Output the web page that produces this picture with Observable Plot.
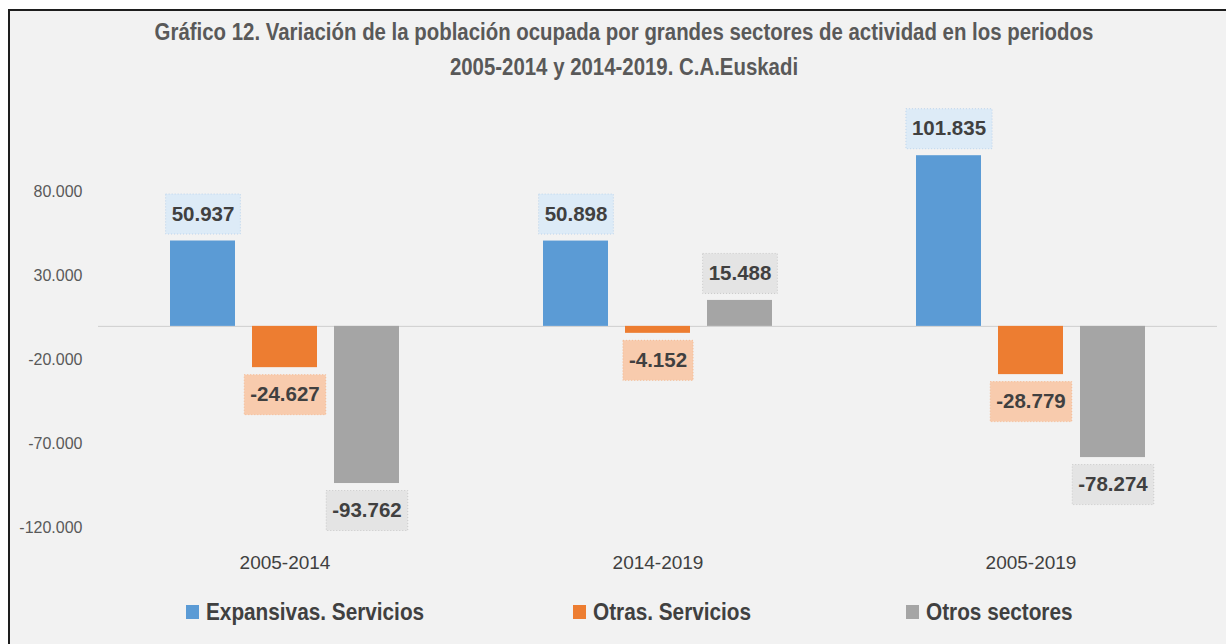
<!DOCTYPE html>
<html>
<head>
<meta charset="utf-8">
<script src="https://cdn.jsdelivr.net/npm/d3@7"></script>
<script src="https://cdn.jsdelivr.net/npm/@observablehq/plot@0.6"></script>
<style>
  html, body { margin: 0; padding: 0; background: #ffffff; }
  #frame { position: absolute; left: 8px; top: 9px; width: 1240px; height: 660px; background: #f2f2f2;
           border-left: 2px solid #1e1e1e; border-top: 2px solid #1e1e1e; }
  #title { position: absolute; left: 0; top: 15px; width: 1248px; text-align: center;
           font-family: "Liberation Sans", sans-serif; font-weight: bold;
           font-size: 23px; line-height: 35px; color: #595959;
           transform: scaleX(0.887); transform-origin: 624px 0; }
  #chart { position: absolute; left: 0; top: 100px; }
  #legend { position: absolute; left: 0; top: 596px; width: 1226px; height: 32px; }
  .item { position: absolute; top: 0; height: 32px; display: flex; align-items: center;
          font-family: "Liberation Sans", sans-serif; font-weight: bold;
          font-size: 24px; color: #404040; white-space: nowrap; }
  .sw { width: 13px; height: 14px; margin-right: 7px; flex: none; }
  .lt { display: inline-block; transform: scaleX(0.865); transform-origin: 0 50%; }
  #chart [aria-label^="y-axis"] text { font-family: "Liberation Sans", sans-serif; font-size: 16px; fill: #595959; }
  #chart [aria-label^="fx-axis"] text { font-family: "Liberation Sans", sans-serif; font-size: 19px; fill: #404040; }
</style>
</head>
<body>
<div id="frame"></div>
<div id="title">Gráfico 12. Variación de la población ocupada por grandes sectores de actividad en los periodos<br>2005-2014 y 2014-2019. C.A.Euskadi</div>
<div id="chart"></div>
<div id="legend"></div>
<script>
// ---- data ----
const periods = ["2005-2014", "2014-2019", "2005-2019"];
const series = ["Expansivas. Servicios", "Otras. Servicios", "Otros sectores"];
const expansivasServicios = [50937, 50898, 101835];
const otrasServicios = [-24627, -4152, -28779];
const otrosSectores = [-93762, 15488, -78274];
const yTicks = [-120000, -70000, -20000, 30000, 80000];

// ---- styles ----
const barColors = ["#5b9bd5", "#ed7d31", "#a5a5a5"];
const boxFills = ["#ddebf7", "#f8cbad", "#e4e4e4"];
const boxStrokes = ["#bcd4ec", "#f4b992", "#c9c9c9"];

const valuesBySeries = [expansivasServicios, otrasServicios, otrosSectores];
const data = [];
periods.forEach((p, i) => series.forEach((s, j) => data.push({period: p, series: s, value: valuesBySeries[j][i]})));

const loc = d3.formatLocale({decimal: ",", thousands: ".", grouping: [3], currency: ["", " €"], minus: "-"});
const fmt = loc.format(",d");

const labelFont = "bold 20.5px 'Liberation Sans'";
const ctx = document.createElement("canvas").getContext("2d");
ctx.font = labelFont;
const halfWidth = d => ctx.measureText(fmt(d.value)).width / 2 + 6;

const boxSymbol = {
  draw(context, size) {
    const hw = Math.sqrt(size / Math.PI);
    context.rect(-hw, -20, 2 * hw, 40);
  }
};

const sIdx = d => series.indexOf(d.series);
const pos = d => d.value >= 0;
const neg = d => d.value < 0;

const textOpts = {x: "series", y: "value", text: d => fmt(d.value), fontFamily: "Liberation Sans",
  fontWeight: "bold", fontSize: 20.5, fill: "#404040"};
const boxOpts = {x: "series", y: "value", r: halfWidth, symbol: boxSymbol,
  fill: d => boxFills[sIdx(d)], stroke: d => boxStrokes[sIdx(d)], strokeWidth: 1, strokeDasharray: "1,2"};

const chart = Plot.plot({
  width: 1226,
  height: 480,
  marginLeft: 98,
  marginRight: 8.5,
  marginTop: 8,
  marginBottom: 53,
  style: {background: "transparent", fontFamily: "Liberation Sans", overflow: "visible"},
  facet: {data, x: "period"},
  fx: {domain: periods, padding: 0, axis: "bottom", tickSize: 0, tickPadding: 28, label: null},
  x: {domain: series, paddingInner: 0.212, paddingOuter: 0.866, axis: null},
  y: {domain: [-120000, 130000], ticks: yTicks, tickFormat: fmt, tickSize: 0, tickPadding: 16, label: null, grid: false},
  color: {type: "identity"},
  r: {type: "identity"},
  marks: [
    Plot.ruleY([0], {stroke: "#cfcfcf", strokeWidth: 1}),
    Plot.barY(data, {x: "series", y: "value", fill: d => barColors[sIdx(d)]}),
    Plot.dot(data, {...boxOpts, filter: pos, dy: -27}),
    Plot.dot(data, {...boxOpts, filter: neg, dy: 27}),
    Plot.text(data, {...textOpts, filter: pos, dy: -27}),
    Plot.text(data, {...textOpts, filter: neg, dy: 27})
  ]
});
document.getElementById("chart").appendChild(chart);

// ---- legend ----
const legendLeft = [186, 573, 906];
const legend = document.getElementById("legend");
series.forEach((s, j) => {
  const it = document.createElement("div");
  it.className = "item";
  it.style.left = legendLeft[j] + "px";
  const sw = document.createElement("span");
  sw.className = "sw";
  sw.style.background = barColors[j];
  it.appendChild(sw);
  const t = document.createElement("span");
  t.className = "lt";
  t.textContent = s;
  it.appendChild(t);
  legend.appendChild(it);
});
</script>
</body>
</html>
